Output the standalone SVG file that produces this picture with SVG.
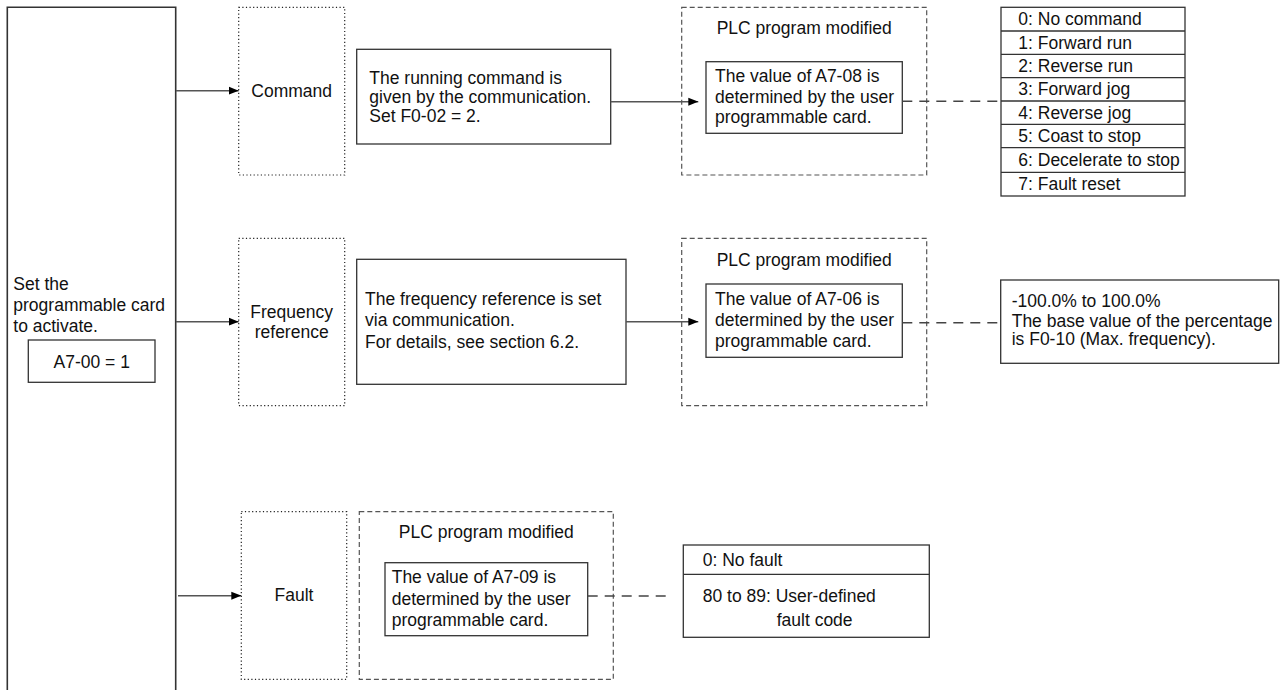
<svg xmlns="http://www.w3.org/2000/svg" width="1287" height="690" viewBox="0 0 1287 690">
<style>
text{font-family:"Liberation Sans",Arial,sans-serif;font-size:17.5px;fill:#111}
.box{fill:#fff;stroke:#333;stroke-width:1.3}
.dot{fill:none;stroke:#222;stroke-width:1.2;stroke-dasharray:1.2 2.4}
.dash{fill:none;stroke:#555;stroke-width:1.2;stroke-dasharray:5 3}
.arr{stroke:#555;stroke-width:1.5;fill:none}
.dl{stroke:#444;stroke-width:1.6;stroke-dasharray:10 7;fill:none}
.mid{text-anchor:middle}
</style>
<defs>
<marker id="ah" markerUnits="userSpaceOnUse" markerWidth="10" markerHeight="10" viewBox="0 0 10 10" refX="10" refY="5" orient="auto">
<path d="M0,1 L10,5 L0,9 Z" fill="#000"/>
</marker>
</defs>

<g id="activate">
<path d="M7.3,692 V7.3 H175.7 V692" fill="#fff" stroke="#333" stroke-width="1.6"/>
<text x="13.3" y="289.5">Set the</text>
<text x="13.3" y="311">programmable card</text>
<text x="13.3" y="332">to activate.</text>
<rect class="box" x="28.3" y="340" width="126.7" height="42.3"/>
<text class="mid" x="91.7" y="368">A7-00 = 1</text>
</g>

<g id="command">
<rect class="dot" x="238.7" y="7.3" width="106" height="167.7"/>
<text class="mid" x="291.7" y="97">Command</text>
</g>

<g id="cmd-desc">
<rect class="box" x="356.7" y="49.3" width="254" height="94.7"/>
<text x="369.3" y="84">The running command is</text>
<text x="369.3" y="103">given by the communication.</text>
<text x="369.3" y="122">Set F0-02 = 2.</text>
</g>

<g id="plc1">
<rect class="dash" x="681.7" y="7.3" width="245" height="167.7"/>
<text class="mid" x="804.2" y="34">PLC program modified</text>
<rect class="box" x="706" y="61.7" width="196.3" height="71.6"/>
<text x="715" y="82">The value of A7-08 is</text>
<text x="715" y="102.7">determined by the user</text>
<text x="715" y="123">programmable card.</text>
</g>

<g id="cmd-values">
<rect class="box" x="1001" y="7.3" width="184" height="188.7"/>
<path d="M1001,31 H1185 M1001,54.3 H1185 M1001,77.7 H1185 M1001,101 H1185 M1001,124.3 H1185 M1001,147.7 H1185 M1001,172.3 H1185" stroke="#333" stroke-width="1.3"/>
<text x="1018.3" y="25">0: No command</text>
<text x="1018.3" y="48.5">1: Forward run</text>
<text x="1018.3" y="72">2: Reverse run</text>
<text x="1018.3" y="95.3">3: Forward jog</text>
<text x="1018.3" y="118.7">4: Reverse jog</text>
<text x="1018.3" y="142">5: Coast to stop</text>
<text x="1018.3" y="166">6: Decelerate to stop</text>
<text x="1018.3" y="190">7: Fault reset</text>
</g>

<g id="frequency">
<rect class="dot" x="238.7" y="238.3" width="106" height="167.4"/>
<text class="mid" x="291.7" y="318">Frequency</text>
<text class="mid" x="291.7" y="338">reference</text>
</g>

<g id="freq-desc">
<rect class="box" x="356.7" y="259.3" width="269.3" height="125"/>
<text x="365" y="304.5">The frequency reference is set</text>
<text x="365" y="326">via communication.</text>
<text x="365" y="347.5">For details, see section 6.2.</text>
</g>

<g id="plc2">
<rect class="dash" x="681.7" y="238.3" width="245" height="167.4"/>
<text class="mid" x="804.2" y="266">PLC program modified</text>
<rect class="box" x="706" y="284" width="196.3" height="73.3"/>
<text x="715" y="304.5">The value of A7-06 is</text>
<text x="715" y="326">determined by the user</text>
<text x="715" y="346.5">programmable card.</text>
</g>

<g id="freq-values">
<rect class="box" x="1000.7" y="280" width="278" height="83.3"/>
<text x="1011.7" y="307">-100.0% to 100.0%</text>
<text x="1011.7" y="326.5">The base value of the percentage</text>
<text x="1011.7" y="345">is F0-10 (Max. frequency).</text>
</g>

<g id="fault">
<rect class="dot" x="241.3" y="511.7" width="105.4" height="167.6"/>
<text class="mid" x="294" y="601">Fault</text>
</g>

<g id="plc3">
<rect class="dash" x="359.3" y="511.7" width="254" height="167.6"/>
<text class="mid" x="486.3" y="538">PLC program modified</text>
<rect class="box" x="385" y="562.7" width="202.7" height="73"/>
<text x="391.7" y="583">The value of A7-09 is</text>
<text x="391.7" y="604.5">determined by the user</text>
<text x="391.7" y="626">programmable card.</text>
</g>

<g id="fault-values">
<rect class="box" x="683.3" y="545" width="246" height="92.3"/>
<path d="M683.3,574.3 H929.3" stroke="#333" stroke-width="1.3"/>
<text x="702.7" y="566">0: No fault</text>
<text x="702.7" y="602">80 to 89: User-defined</text>
<text x="776.7" y="625.5">fault code</text>
</g>

<g id="connectors">
<line class="arr" x1="176" y1="90.7" x2="238.7" y2="90.7" marker-end="url(#ah)"/>
<line class="arr" x1="176" y1="321.7" x2="238.7" y2="321.7" marker-end="url(#ah)"/>
<line class="arr" x1="178" y1="595.7" x2="241.3" y2="595.7" marker-end="url(#ah)"/>
<line class="arr" x1="610.7" y1="101.7" x2="698.3" y2="101.7" marker-end="url(#ah)"/>
<line class="arr" x1="626" y1="321.7" x2="698.3" y2="321.7" marker-end="url(#ah)"/>
<line class="dl" x1="902.3" y1="101.3" x2="1001" y2="101.3"/>
<line class="dl" x1="902.3" y1="322.7" x2="1000.7" y2="322.7"/>
<line class="dl" x1="587.7" y1="596" x2="670" y2="596"/>
</g>
</svg>
